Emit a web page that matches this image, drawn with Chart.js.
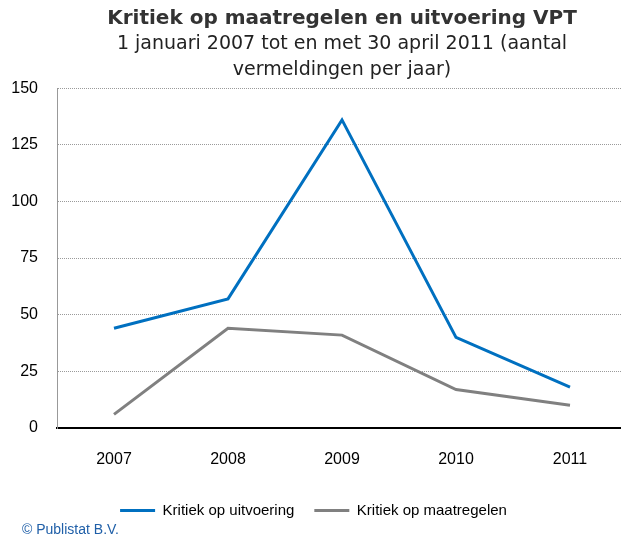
<!DOCTYPE html>
<html>
<head>
<meta charset="utf-8">
<script src="https://cdn.jsdelivr.net/npm/chart.js@4"></script>
<style>
  body { margin: 0; background: #fff; }
  #wrap { position: relative; width: 621px; height: 540px; overflow: hidden; }
  #copy { position: absolute; left: 22px; top: 521px; font: 14px "Liberation Sans", sans-serif; color: #1f5fa8; }
</style>
</head>
<body>
<div id="wrap">
  <canvas id="vpt_chart" width="630" height="540"></canvas>
  <div id="copy">© Publistat B.V.</div>
</div>
<script>
// jaren en vermeldingen per jaar
const years = ['2007', '2008', '2009', '2010', '2011'];
const uitvoering = [44, 57, 136, 40, 18];
const maatregelen = [6, 44, 41, 17, 10];
const yTicks = [0, 25, 50, 75, 100, 125, 150];

let ctx = document.getElementById('vpt_chart');
let vptChart = new Chart(ctx, {
    type: 'line',
    data: {
        labels: years,
        datasets: [{
            label: 'Kritiek op uitvoering',
            data: uitvoering,
            borderColor: '#0070c0',
            backgroundColor: '#0070c0',
            borderWidth: 3,
            pointRadius: 0,
            tension: 0
        },
        {
            label: 'Kritiek op maatregelen',
            data: maatregelen,
            borderColor: '#808080',
            backgroundColor: '#808080',
            borderWidth: 3,
            pointRadius: 0,
            tension: 0
        }]
    },
    options: {
        responsive: false,
        animation: false,
        devicePixelRatio: 1,
        layout: { padding: { left: 0, right: 3, top: 0, bottom: 12 } },
        plugins: {
            title: {
                display: true,
                fullSize: false,
                text: 'Kritiek op maatregelen en uitvoering VPT',
                color: '#333',
                font: { family: 'DejaVu Sans', size: 20, weight: 'bold', lineHeight: 1.2 },
                padding: { top: 7, bottom: 1 }
            },
            subtitle: {
                display: true,
                fullSize: false,
                text: ['1 januari 2007 tot en met 30 april 2011 (aantal', 'vermeldingen per jaar)'],
                color: '#222',
                font: { family: 'DejaVu Sans', size: 19, lineHeight: 1.32 },
                padding: { top: 0, bottom: 6 }
            },
            legend: {
                position: 'bottom',
                labels: {
                    boxWidth: 35,
                    boxHeight: 3,
                    padding: 20,
                    color: '#000',
                    font: { family: 'Liberation Sans', size: 15 },
                    // thin line instead of outlined box
                    generateLabels: function(chart) {
                        return Chart.defaults.plugins.legend.labels.generateLabels(chart)
                            .map(l => Object.assign(l, { lineWidth: 0 }));
                    }
                }
            },
            tooltip: { enabled: false }
        },
        scales: {
            x: {
                offset: true,
                grid: { display: false, drawTicks: false, offset: true },
                border: { color: '#000', width: 2 },
                ticks: { color: '#000', padding: 22, font: { family: 'Liberation Sans', size: 16 } },
                afterFit: function(scale) { scale.height = 55; }
            },
            y: {
                min: 0,
                max: 150,
                afterBuildTicks: function(scale) { scale.ticks = yTicks.map(v => ({ value: v })); },
                grid: { color: '#9a9a9a', lineWidth: 1, drawTicks: false },
                border: { color: '#999', width: 1, dash: [1, 1] },
                ticks: { color: '#000', padding: 19, font: { family: 'Liberation Sans', size: 16 } },
                afterFit: function(scale) { scale.width = 57; }
            }
        }
    }
});
</script>
</body>
</html>
